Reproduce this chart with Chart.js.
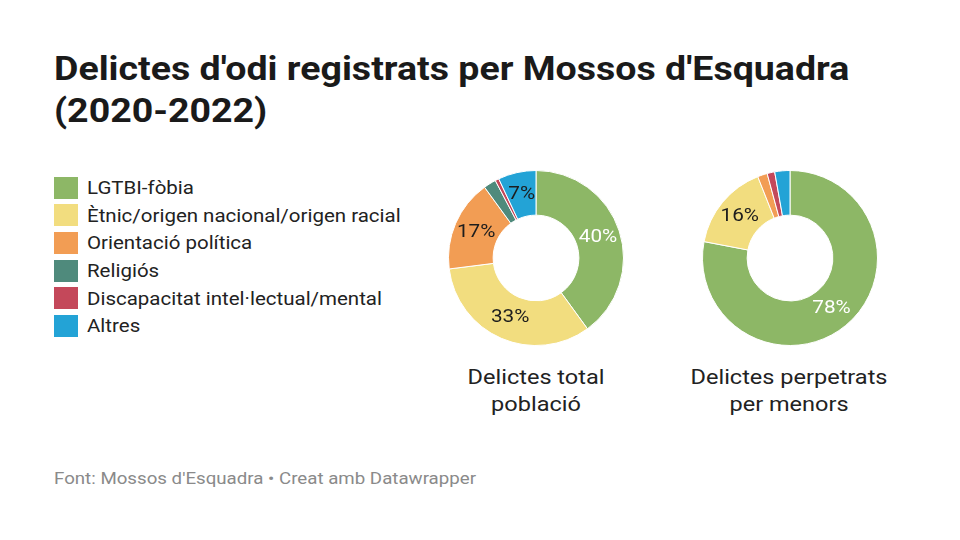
<!DOCTYPE html>
<html>
<head>
<meta charset="utf-8">
<script src="https://cdn.jsdelivr.net/npm/chart.js@4"></script>
<style>
  html, body { margin: 0; padding: 0; background: #fff; }
  body { width: 960px; height: 540px; position: relative; font-family: Roboto, "Noto Sans", sans-serif; color: #1d1d1d; overflow: hidden; }
  .wide { transform: scaleX(1.12); transform-origin: left center; }
  h1 { position: absolute; left: 54px; top: 48px; margin: 0; font-size: 33.5px; line-height: 42px; font-weight: 700; color: #1a1a1a; white-space: nowrap; }
  #legend { position: absolute; left: 54px; top: 174px; }
  .item { height: 27.6px; display: flex; align-items: center; font-size: 18.3px; color: #222; white-space: nowrap; }
  .sw { width: 24px; height: 22px; margin-right: 9px; flex: none; }
  .box { position: absolute; width: 200px; height: 200px; }
  .cap { position: absolute; width: 260px; text-align: center; font-size: 21px; line-height: 27px; color: #222; transform: scaleX(1.12); transform-origin: center; }
  #foot { position: absolute; left: 54px; top: 469px; font-size: 16.7px; color: #8a8a8a; white-space: nowrap; }
</style>
</head>
<body>
<h1 class="wide">Delictes d'odi registrats per Mossos d'Esquadra<br>(2020-2022)</h1>
<div id="legend"></div>
<div class="box" style="left:436px; top:158px;"><canvas id="donutTotal"></canvas></div>
<div class="box" style="left:690px; top:158px;"><canvas id="donutMenors"></canvas></div>
<div class="cap" style="left:406px; top:364px;">Delictes total<br>població</div>
<div class="cap" style="left:659px; top:364px;">Delictes perpetrats<br>per menors</div>
<div id="foot" class="wide">Font: Mossos d'Esquadra • Creat amb Datawrapper</div>

<script>
// Categories i colors
const categories = ['LGTBI-fòbia', 'Ètnic/origen nacional/origen racial', 'Orientació política', 'Religiós', 'Discapacitat intel·lectual/mental', 'Altres'];
const colors = ['#8db766', '#f2dd7f', '#f29d54', '#4f8a7c', '#c4485a', '#23a3d6'];

// Percentatges (llegits del gràfic)
const totalPoblacio = [40, 33, 17, 2.3, 0.7, 7];
const perMenors = [78, 16, 1.8, 0, 1.4, 2.8];

// Llegenda
const legend = document.getElementById('legend');
categories.forEach(function(cat, i) {
    const row = document.createElement('div');
    row.className = 'item';
    row.innerHTML = '<span class="sw" style="background:' + colors[i] + '"></span><span class="wide">' + cat + '</span>';
    legend.appendChild(row);
});

// Etiquetes de percentatge dins dels segments
const pctLabels = {
    id: 'pctLabels',
    afterDatasetsDraw(chart) {
        const ctx = chart.ctx;
        const ds = chart.data.datasets[0];
        chart.getDatasetMeta(0).data.forEach(function(arc, i) {
            const v = ds.data[i];
            if (v < 5) return;
            const p = arc.tooltipPosition();
            ctx.save();
            ctx.translate(p.x, p.y);
            ctx.scale(1.12, 1);
            ctx.font = '18.5px Roboto, sans-serif';
            ctx.textAlign = 'center';
            ctx.textBaseline = 'middle';
            ctx.fillStyle = i === 0 ? '#ffffff' : '#1d1d1d';
            ctx.fillText(Math.round(v) + '%', 0, 0);
            ctx.restore();
        });
    }
};

function initDonut(canvasId, values) {
    const ctx = document.getElementById(canvasId).getContext('2d');
    return new Chart(ctx, {
        type: 'doughnut',
        data: {
            labels: categories,
            datasets: [{
                data: values,
                backgroundColor: colors,
                borderColor: '#ffffff',
                borderWidth: 1
            }]
        },
        options: {
            responsive: true,
            maintainAspectRatio: false,
            animation: false,
            cutout: '49%',
            layout: { padding: 12 },
            plugins: {
                legend: { display: false },
                tooltip: { enabled: false }
            }
        },
        plugins: [pctLabels]
    });
}

initDonut('donutTotal', totalPoblacio);
initDonut('donutMenors', perMenors);
</script>
</body>
</html>
